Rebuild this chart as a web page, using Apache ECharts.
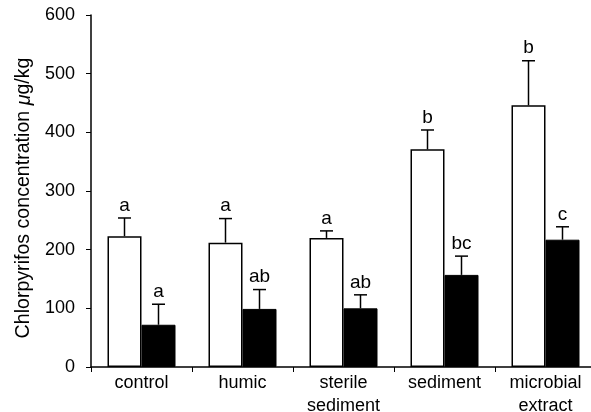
<!DOCTYPE html>
<html>
<head>
<meta charset="utf-8">
<script src="https://cdn.jsdelivr.net/npm/echarts@6/dist/echarts.min.js"></script>
<style>
html,body{margin:0;padding:0;background:#fff;}
#c{width:591px;height:412px;}
</style>
</head>
<body>
<div id="c"></div>
<script>
var categories = ['control', 'humic', 'sterile\nsediment', 'sediment', 'microbial\nextract'];
var whiteValues = [223, 212, 220, 371, 446];
var whiteErrors = [31, 41, 12, 33, 76];
var whiteLetters = ['a', 'a', 'a', 'b', 'b'];
var blackValues = [72, 99, 100, 157, 217];
var blackErrors = [35, 33, 23, 32, 22];
var blackLetters = ['a', 'ab', 'ab', 'bc', 'c'];
var yTicks = [0, 100, 200, 300, 400, 500, 600];

var FONT = 'Liberation Sans';
var BAR_W = 34;

function errData(vals, errs, letters) {
  return vals.map(function (v, i) { return [i, v, v + errs[i], letters[i]]; });
}

function errRender(offset) {
  return function (params, api) {
    var base = api.coord([api.value(0), api.value(1)]);
    var top = api.coord([api.value(0), api.value(2)]);
    var x = base[0] + offset;
    var capHalf = 6.5;
    return {
      type: 'group',
      children: [
        { type: 'line', shape: { x1: x, y1: base[1], x2: x, y2: top[1] }, style: { stroke: '#000', lineWidth: 1.5 } },
        { type: 'line', shape: { x1: x - capHalf, y1: top[1], x2: x + capHalf, y2: top[1] }, style: { stroke: '#000', lineWidth: 1.5 } },
        { type: 'text', x: x, y: top[1] - 3, style: { text: api.value(3), font: '19px "' + FONT + '"', fill: '#000', align: 'center', verticalAlign: 'bottom' } }
      ]
    };
  };
}

var chart = echarts.init(document.getElementById('c'), null, { renderer: 'canvas' });
chart.setOption({
  animation: false,
  backgroundColor: '#fff',
  textStyle: { fontFamily: FONT },
  grid: { left: 91, right: -5, top: 15, bottom: 45, containLabel: false, outerBoundsMode: 'none' },
  xAxis: {
    type: 'category',
    data: categories,
    boundaryGap: true,
    axisLine: { lineStyle: { color: '#000', width: 1.5 } },
    axisTick: { show: true, length: 5, inside: false, lineStyle: { color: '#000', width: 1 }, alignWithLabel: false },
    axisLabel: { color: '#000', fontSize: 18, fontFamily: FONT, margin: 5, lineHeight: 23, interval: 0 }
  },
  yAxis: {
    type: 'value',
    min: yTicks[0],
    max: yTicks[yTicks.length - 1],
    interval: yTicks[1] - yTicks[0],
    name: 'Chlorpyrifos concentration {i|μ}g/kg',
    nameLocation: 'middle',
    nameGap: 43,
    nameRotate: 90,
    nameTextStyle: {
      color: '#000', fontSize: 19.6, fontFamily: FONT, padding: [0, 14, 0, 0],
      rich: { i: { fontStyle: 'italic', fontSize: 19.6, fontFamily: FONT, color: '#000' } }
    },
    splitLine: { show: false },
    axisLine: { show: true, lineStyle: { color: '#000', width: 1.5 } },
    axisTick: { show: true, length: 5, lineStyle: { color: '#000', width: 1 } },
    axisLabel: { color: '#000', fontSize: 18, fontFamily: FONT, margin: 16 }
  },
  series: [
    {
      type: 'bar', data: whiteValues, barWidth: BAR_W, barGap: '0%',
      itemStyle: { color: '#fff', borderColor: '#000', borderWidth: 1.5 }
    },
    {
      type: 'bar', data: blackValues, barWidth: BAR_W, barGap: '0%',
      itemStyle: { color: '#000', borderColor: '#000', borderWidth: 1 }
    },
    {
      type: 'custom', data: errData(whiteValues, whiteErrors, whiteLetters),
      renderItem: errRender(-BAR_W / 2), encode: { x: 0, y: [1, 2] }, z: 5
    },
    {
      type: 'custom', data: errData(blackValues, blackErrors, blackLetters),
      renderItem: errRender(BAR_W / 2), encode: { x: 0, y: [1, 2] }, z: 5
    }
  ]
});
</script>
</body>
</html>
